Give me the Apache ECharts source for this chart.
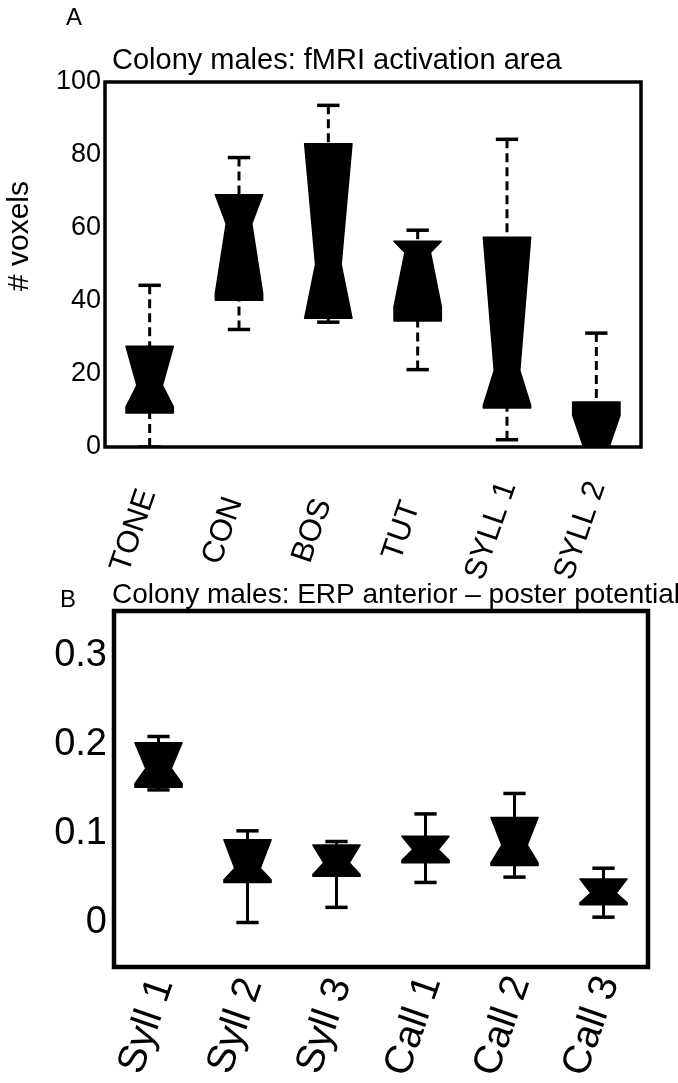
<!DOCTYPE html>
<html>
<head>
<meta charset="utf-8">
<script src="https://cdn.jsdelivr.net/npm/echarts@6/dist/echarts.min.js"></script>
<style>
html, body { margin: 0; padding: 0; background: #fff; }
#chart { width: 678px; height: 1083px; }
</style>
</head>
<body>
<div id="chart"></div>
<script>
// panel A: fMRI activation area, # voxels
var catsA = ['TONE', 'CON', 'BOS', 'TUT', 'SYLL 1', 'SYLL 2'];
var lowA = [0, 32.2, 34.2, 21.2, 2.0, 0];
var q1A = [9.3, 40.2, 35.3, 34.5, 10.7, 0];
var medA = [16.9, 61.2, 50.0, 53.3, 21.0, 0];
var q3A = [27.6, 69.1, 83.1, 56.4, 57.5, 12.3];
var highA = [44.3, 79.3, 93.6, 59.4, 84.3, 31.2];
var notchLoA = [11.0, 42.0, 35.3, 38.4, 11.4, 0];
var notchHiA = [27.6, 69.1, 83.1, 56.4, 57.5, 8.7];

// panel B: ERP anterior - posterior potential
var catsB = ['Syll 1', 'Syll 2', 'Syll 3', 'Call 1', 'Call 2', 'Call 3'];
var lowB = [0.149, 0.000, 0.017, 0.045, 0.051, 0.006];
var q1B = [0.152, 0.045, 0.052, 0.067, 0.064, 0.020];
var medB = [0.173, 0.061, 0.067, 0.082, 0.087, 0.033];
var q3B = [0.202, 0.093, 0.087, 0.097, 0.118, 0.049];
var highB = [0.209, 0.103, 0.091, 0.122, 0.145, 0.061];
var notchLoB = [0.156, 0.048, 0.054, 0.070, 0.067, 0.022];
var notchHiB = [0.202, 0.093, 0.087, 0.097, 0.118, 0.049];
var ticksB = [0, 0.1, 0.2, 0.3];

var font = 'Liberation Sans, Arial, Helvetica, sans-serif';

function boxRows(low, q1, med, q3, high, nLo, nHi) {
  return low.map(function (v, i) {
    return [i, v, q1[i], med[i], q3[i], high[i], nLo[i], nHi[i]];
  });
}

// notched box drawn from the axis scales
function makeRender(dashed) {
  return function (params, api) {
    var i = api.value(0);
    var band = api.size([1, 0])[0];
    var bw = band * 0.53, half = bw / 2, inset = bw * 0.23, cap = band * 0.125;
    var x = api.coord([i, 0])[0];
    function y(dim) { return api.coord([i, api.value(dim)])[1]; }
    var yLow = y(1), yQ1 = y(2), yMed = y(3), yQ3 = y(4), yHigh = y(5), yNLo = y(6), yNHi = y(7);
    var L = x - half, R = x + half;
    var wStyle = { stroke: '#000', lineWidth: 3, lineDash: dashed ? [9, 5] : null };
    var cStyle = { stroke: '#000', lineWidth: 3.5 };
    return {
      type: 'group',
      children: [
        { type: 'line', shape: { x1: x, y1: yHigh, x2: x, y2: yQ3 }, style: wStyle },
        { type: 'line', shape: { x1: x, y1: yLow, x2: x, y2: yQ1 }, style: wStyle },
        { type: 'line', shape: { x1: x - cap, y1: yHigh, x2: x + cap, y2: yHigh }, style: cStyle },
        { type: 'line', shape: { x1: x - cap, y1: yLow, x2: x + cap, y2: yLow }, style: cStyle },
        {
          type: 'polygon',
          shape: {
            points: [[L, yQ1], [L, yNLo], [L + inset, yMed], [L, yNHi], [L, yQ3],
                     [R, yQ3], [R, yNHi], [R - inset, yMed], [R, yNLo], [R, yQ1]]
          },
          style: { fill: '#000', stroke: '#000', lineWidth: 1.5, lineJoin: 'round' }
        }
      ]
    };
  };
}

var tickStyle = { inside: true, length: 4, lineStyle: { color: '#000', width: 2 } };

var chart = echarts.init(document.getElementById('chart'));
var option = {
  backgroundColor: '#fff',
  animation: false,
  grid: [
    { left: 105, top: 82, width: 536, height: 365, outerBoundsMode: 'none',
      show: true, borderColor: '#000', borderWidth: 3.5 },
    { left: 114, top: 611, width: 534, height: 356, outerBoundsMode: 'none',
      show: true, borderColor: '#000', borderWidth: 4.5 }
  ],
  graphic: [
    { type: 'text', left: 66, top: 6, style: { text: 'A', font: '24px ' + font, fill: '#000' } },
    { type: 'text', left: 60, top: 588, style: { text: 'B', font: '24px ' + font, fill: '#000' } },
    { type: 'text', x: 20, y: 236, rotation: Math.PI / 2,
      style: { text: '# voxels', font: '30px ' + font, fill: '#000', align: 'center', verticalAlign: 'middle' } }
  ],
  title: [
    { text: 'Colony males: fMRI activation area', left: 107, top: 41,
      textStyle: { fontFamily: font, fontSize: 29, fontWeight: 'normal', color: '#000' } },
    { text: 'Colony males: ERP anterior \u2013 poster potential', left: 107, top: 576,
      textStyle: { fontFamily: font, fontSize: 28, fontWeight: 'normal', color: '#000' } }
  ],
  xAxis: [
    { type: 'category', gridIndex: 0, data: catsA, position: 'bottom',
      axisLine: { show: false }, axisTick: Object.assign({ alignWithLabel: true }, tickStyle),
      axisLabel: { rotate: 71, margin: 76, align: 'center', verticalAlign: 'bottom', lineHeight: 25,
        padding: [0, 25, 0, 0], fontSize: 31, fontFamily: font, color: '#000' } },
    { type: 'category', gridIndex: 0, data: catsA, position: 'top',
      axisLine: { show: false }, axisTick: Object.assign({ alignWithLabel: true }, tickStyle),
      axisLabel: { show: false } },
    { type: 'category', gridIndex: 1, data: catsB, position: 'bottom',
      axisLine: { show: false }, axisTick: Object.assign({ alignWithLabel: true }, tickStyle),
      axisLabel: { rotate: 71, margin: 54, align: 'center', verticalAlign: 'bottom', lineHeight: 19,
        padding: [0, 17, 0, 0], fontSize: 40, fontFamily: font, color: '#000' } },
    { type: 'category', gridIndex: 1, data: catsB, position: 'top',
      axisLine: { show: false }, axisTick: Object.assign({ alignWithLabel: true }, tickStyle),
      axisLabel: { show: false } }
  ],
  yAxis: [
    { type: 'value', gridIndex: 0, min: 0, max: 100, interval: 20, position: 'left',
      splitLine: { show: false }, axisLine: { show: false }, axisTick: tickStyle,
      axisLabel: { margin: 4, fontSize: 27, fontFamily: font, color: '#000' } },
    { type: 'value', gridIndex: 0, min: 0, max: 100, interval: 20, position: 'right',
      splitLine: { show: false }, axisLine: { show: false }, axisTick: tickStyle,
      axisLabel: { show: false } },
    { type: 'value', gridIndex: 1, min: -0.05, max: 0.35, position: 'left',
      splitLine: { show: false }, axisLine: { show: false },
      axisTick: Object.assign({ customValues: ticksB }, tickStyle),
      axisLabel: { customValues: ticksB, margin: 7, fontSize: 38, fontFamily: font, color: '#000' } },
    { type: 'value', gridIndex: 1, min: -0.05, max: 0.35, position: 'right',
      splitLine: { show: false }, axisLine: { show: false },
      axisTick: Object.assign({ customValues: ticksB }, tickStyle),
      axisLabel: { show: false } }
  ],
  series: [
    { type: 'custom', xAxisIndex: 0, yAxisIndex: 0, clip: true,
      renderItem: makeRender(true), encode: { x: 0, y: [1, 2, 3, 4, 5] },
      data: boxRows(lowA, q1A, medA, q3A, highA, notchLoA, notchHiA) },
    { type: 'custom', xAxisIndex: 2, yAxisIndex: 2, clip: true,
      renderItem: makeRender(false), encode: { x: 0, y: [1, 2, 3, 4, 5] },
      data: boxRows(lowB, q1B, medB, q3B, highB, notchLoB, notchHiB) }
  ]
};
chart.setOption(option);
</script>
</body>
</html>
